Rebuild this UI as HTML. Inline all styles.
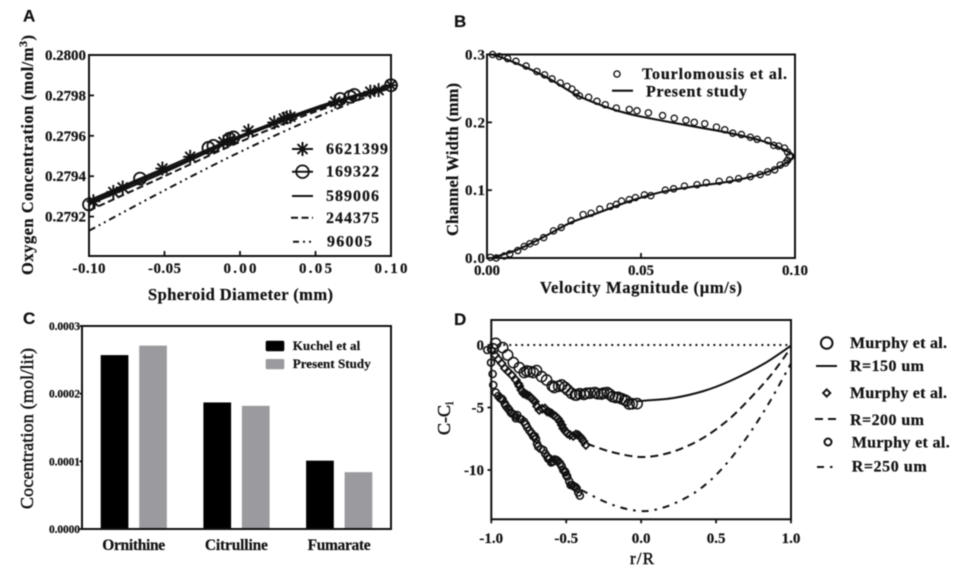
<!DOCTYPE html>
<html lang="en">
<head>
<meta charset="utf-8">
<title>Four-panel validation chart</title>
<style>
html,body{margin:0;padding:0;background:#fff;width:957px;height:568px;overflow:hidden}
svg{display:block;filter:blur(.45px)}
text{font-family:"Liberation Serif",serif;font-weight:bold;fill:#111;stroke:#111;stroke-width:.2}
.letter{font-family:"Liberation Sans",sans-serif;font-size:17px}
.plain{font-weight:normal;stroke-width:.45}
</style>
</head>
<body>
<svg id="fig" xmlns="http://www.w3.org/2000/svg" width="957" height="568" viewBox="0 0 957 568">
  <text class="letter" x="23" y="21.5">A</text>
  <text class="letter" x="454" y="27">B</text>
  <text class="letter" x="23" y="324">C</text>
  <text class="letter" x="454" y="325">D</text>

  <text x="148" y="300" font-size="16.5" textLength="185">Spheroid Diameter (mm)</text>
  <text transform="translate(33,275) rotate(-90)" font-size="16.5" textLength="240">Oxygen Concentration (mol/m<tspan dy="-6" font-size="12">3</tspan><tspan dy="6">)</tspan></text>

  <text x="540" y="293" font-size="16.5" textLength="202">Velocity Magnitude (µm/s)</text>
  <text transform="translate(458,236) rotate(-90)" font-size="16.5" textLength="153">Channel Width (mm)</text>

  <text class="plain" transform="translate(33,509) rotate(-90)" font-size="18" textLength="161">Cocentration (mol/lit)</text>

  <text class="plain" x="630" y="564" font-size="17" textLength="24">r/R</text>
  <text class="plain" transform="translate(450,435) rotate(-90)" font-size="18">C-C<tspan dy="3" font-size="12">i</tspan></text>
</svg>
<script>
/* ---------- Panel A data ---------- */
const aXTicks = [-0.10, -0.05, 0.00, 0.05, 0.10];
const aXTickLabels = ["-0.10", "-0.05", "0.00", "0.05", "0.10"];
const aYTicks = [0.2792, 0.2794, 0.2796, 0.2798, 0.2800];
const aYTickLabels = ["0.2792", "0.2794", "0.2796", "0.2798", "0.2800"];
const aLineX = [-0.10, -0.05, 0.00, 0.05, 0.10];
const aLine6621399 = [0.27928, 0.27944, 0.27960, 0.27974, 0.27985];
const aLine169322 = [0.27926, 0.27942, 0.27959, 0.27973, 0.27985];
const aLine589006 = [0.27927, 0.27943, 0.27959, 0.27974, 0.27985];
const aLine244375 = [0.27923, 0.27940, 0.27957, 0.27972, 0.27984];
const aLine96005 = [0.27913, 0.27933, 0.27952, 0.27969, 0.27984];
const aStarX = [-0.0971, -0.0839, -0.0777, -0.0514, -0.0330, -0.0109, -0.0065, 0.0056, 0.0227, 0.0290, 0.0310, 0.0333, 0.0631, 0.0863, 0.0918, 0.1];
const aStarY = [0.279276, 0.279322, 0.279344, 0.279438, 0.279496, 0.279570, 0.279582, 0.279625, 0.279666, 0.279685, 0.279691, 0.279694, 0.279769, 0.279818, 0.279826, 0.27985];
const aCircleX = [-0.1, -0.0662, -0.0209, -0.0176, -0.0070, -0.0043, 0.0664, 0.073, 0.0757, 0.1];
const aCircleY = [0.27926, 0.279388, 0.279540, 0.279550, 0.279585, 0.279592, 0.279782, 0.279793, 0.279802, 0.27985];

/* ---------- Panel B data ---------- */
const bXTicks = [0, 0.05, 0.10];
const bXTickLabels = ["0.00", "0.05", "0.10"];
const bYTicks = [0, 0.1, 0.2, 0.3];
const bYTickLabels = ["0.0", "0.1", "0.2", "0.3"];
const bPointX = [.0018,.0040,.0067,.0094,.0127,.0162,.0187,.0211,.0238,.0260,.0276,.0289,.0300,.0330,.0357,.0384,.0420,.0462,.0487,.0524,.0570,.0608,.0646,.0673,.0707,.0745,.0772,.0798,.0826,.0855,.0877,.0912,.0931,.0947,.0966,.0976,.0982,.0976,.0969,.0952,.0934,.0911,.0887,.0855,.0817,.0788,.0754,.0712,.0682,.0641,.0606,.0579,.0532,.0511,.0482,.0462,.0437,.0420,.0400,.0366,.0338,.0312,.0273,.0241,.0216,.0184,.0157,.0139,.0121,.0100,.0074,.0056,.0030,.0011];
const bPointY = [.300,.297,.294,.290,.283,.275,.270,.264,.258,.253,.249,.243,.239,.237,.231,.226,.221,.219,.217,.214,.210,.206,.203,.200,.198,.193,.189,.184,.182,.178,.175,.173,.166,.165,.162,.156,.150,.144,.140,.137,.130,.127,.123,.120,.117,.115,.113,.111,.108,.106,.102,.100,.092,.093,.089,.086,.084,.079,.076,.072,.066,.064,.055,.045,.040,.030,.024,.021,.017,.011,.006,.003,.000,.001];
const bLineX = [.0005,.0032,.0127,.0211,.0292,.0384,.0465,.0574,.0682,.0790,.0898,.0963,.0996,.0963,.0898,.0790,.0682,.0574,.0465,.0357,.0271,.0184,.0097,.0022];
const bLineY = [.300,.298,.281,.262,.240,.223,.212,.202,.193,.184,.172,.160,.150,.138,.125,.113,.106,.098,.084,.066,.052,.031,.012,.001];

/* ---------- Panel C data ---------- */
const cCategories = ["Ornithine", "Citrulline", "Fumarate"];
const cKuchel = [0.000257, 0.000187, 0.000101];
const cPresent = [0.000271, 0.000182, 0.000084];
const cYTicks = [0, 0.0001, 0.0002, 0.0003];
const cYTickLabels = ["0.0000", "0.0001", "0.0002", "0.0003"];

/* ---------- Panel D data ---------- */
const dXTicks = [-1, -0.5, 0, 0.5, 1];
const dXTickLabels = ["-1.0", "-0.5", "0.0", "0.5", "1.0"];
const dYTicks = [0, -5, -10];
const dYTickLabels = ["0", "-5", "-10"];
const dBigX = [-.99,-.971,-.924,-.891,-.853,-.813,-.78,-.764,-.742,-.72,-.698,-.664,-.631,-.593,-.58,-.55,-.531,-.509,-.49,-.464,-.44,-.431,-.41,-.382,-.364,-.34,-.309,-.29,-.264,-.25,-.227,-.21,-.191,-.17,-.153,-.13,-.11,-.098,-.08,-.06,-.027];
const dBigY = [-.3,.13,-.21,-.8,-1.41,-1.81,-2.2,-2.08,-2.13,-2.2,-2.05,-2.53,-2.8,-3.28,-3.4,-3.3,-3.2,-3.39,-3.6,-3.87,-4.0,-4.0,-3.9,-3.95,-3.87,-3.85,-3.81,-3.9,-3.92,-3.85,-3.81,-3.95,-4.13,-4.2,-4.19,-4.3,-4.4,-4.48,-4.72,-4.7,-4.69];
const dDiamondX = [-.998,-.976,-.953,-.931,-.909,-.887,-.864,-.836,-.82,-.813,-.8,-.787,-.77,-.76,-.745,-.731,-.72,-.709,-.695,-.68,-.66,-.642,-.627,-.61,-.598,-.585,-.569,-.555,-.542,-.53,-.52,-.505,-.493,-.475,-.453,-.435,-.42,-.41,-.398,-.385,-.369];
const dDiamondY = [-.4,-.8,-1.15,-1.47,-1.87,-2.13,-2.4,-2.8,-3.1,-3.28,-3.6,-3.87,-3.95,-4.0,-4.1,-4.27,-4.4,-4.53,-4.9,-5.2,-5.1,-5.07,-5.33,-5.4,-5.47,-5.6,-5.73,-5.9,-6.13,-6.4,-6.67,-6.9,-7.07,-7.2,-7.28,-7.15,-7.2,-7.3,-7.47,-7.7,-8.0];
const dSmallX = [-1.027,-1.002,-.991,-.987,-.97,-.953,-.94,-.93,-.924,-.91,-.902,-.89,-.88,-.87,-.864,-.85,-.84,-.827,-.836,-.81,-.8,-.782,-.77,-.76,-.745,-.731,-.72,-.71,-.702,-.695,-.687,-.67,-.653,-.64,-.627,-.62,-.61,-.6,-.591,-.585,-.576,-.565,-.555,-.542,-.53,-.52,-.51,-.505,-.5,-.493,-.48,-.471,-.46,-.45,-.44,-.431,-.42,-.409];
const dSmallY = [-.4,-1.41,-2.32,-3.2,-3.8,-4.08,-4.25,-4.3,-4.4,-4.7,-4.88,-5.05,-5.2,-5.4,-5.47,-5.55,-5.7,-5.6,-5.87,-5.9,-5.95,-6.13,-6.35,-6.59,-6.85,-7.07,-7.3,-7.3,-7.52,-7.9,-8.13,-8.3,-8.4,-8.7,-8.93,-9.1,-9.1,-9.4,-9.33,-9.3,-9.15,-9.2,-9.3,-9.47,-9.7,-10,-10.1,-10.2,-10.4,-10.53,-10.9,-11.2,-11.2,-11.3,-11.35,-11.47,-11.8,-12.05];
const dLine150X = [-.03,.027,.216,.415,.593,.815,1];
const dLine150Y = [-4.5,-4.45,-4.24,-3.69,-2.88,-1.53,-.05];
const dLine200X = [-.36,-.2,0,.19,.39,.57,.725,.88,1];
const dLine200Y = [-7.9,-8.55,-8.96,-8.62,-7.6,-6.1,-4.3,-2.2,-.2];
const dLine250X = [-.4,-.2,-.01,.15,.325,.46,.59,.725,.86,1];
const dLine250Y = [-11.6,-12.75,-13.28,-13.0,-12.05,-10.85,-9.2,-7.05,-4.5,-1.47];
const dZeroX = [-1, 1];
const dZeroY = [0, 0];

/* ---------- Helpers ---------- */
const NS = "http://www.w3.org/2000/svg";
const fig = document.getElementById("fig");
function add(tag, attrs, text) {
  const el = document.createElementNS(NS, tag);
  for (const k in attrs) el.setAttribute(k, attrs[k]);
  if (text !== undefined) el.textContent = text;
  fig.appendChild(el);
  return el;
}
function scale(d0, d1, r0, r1) { return v => r0 + (v - d0) / (d1 - d0) * (r1 - r0); }
function smoothPath(xs, ys, sx, sy) {
  const p = xs.map((x, i) => [sx(x), sy(ys[i])]);
  let d = "M" + p[0][0].toFixed(2) + " " + p[0][1].toFixed(2);
  for (let i = 0; i < p.length - 1; i++) {
    const a = p[Math.max(i - 1, 0)], b = p[i], c = p[i + 1], e = p[Math.min(i + 2, p.length - 1)];
    d += "C" + (b[0] + (c[0] - a[0]) / 6).toFixed(2) + " " + (b[1] + (c[1] - a[1]) / 6).toFixed(2) + " " +
         (c[0] - (e[0] - b[0]) / 6).toFixed(2) + " " + (c[1] - (e[1] - b[1]) / 6).toFixed(2) + " " +
         c[0].toFixed(2) + " " + c[1].toFixed(2);
  }
  return d;
}
function frame(l, t, r, b, name) {
  const el = add("rect", {x: l, y: t, width: r - l, height: b - t, fill: "none", stroke: "#111", "stroke-width": 2});
  
  
}
function xTicks(vals, labels, sx, y0, len, baseline, fs, w, name) {
  vals.forEach((v, i) => {
    const t = add("line", {x1: sx(v), x2: sx(v), y1: y0, y2: y0 + len, stroke: "#111", "stroke-width": 1.8});
    
    
    const attrs = {x: sx(v), y: baseline, "font-size": fs, "text-anchor": "middle"};
    if (w) attrs.textLength = w;
    const l = add("text", attrs, labels[i]);
    
    
  });
}
function yTicks(vals, labels, sy, x0, len, right, off, fs, w, name) {
  vals.forEach((v, i) => {
    const t = add("line", {x1: x0, x2: x0 + len, y1: sy(v), y2: sy(v), stroke: "#111", "stroke-width": 1.8});
    
    
    const attrs = {x: right, y: sy(v) + off, "font-size": fs, "text-anchor": "end"};
    if (w) attrs.textLength = w;
    const l = add("text", attrs, labels[i]);
    
    
  });
}
function label(x, y, fs, w, str, name) {
  const el = add("text", {x: x, y: y, "font-size": fs, textLength: w}, str);
  
  
}
function star(cx, cy, r, sw, name) {
  [0, 45, 90, 135].forEach(a => {
    const rad = a * Math.PI / 180;
    const el = add("line", {x1: cx - r * Math.cos(rad), y1: cy - r * Math.sin(rad), x2: cx + r * Math.cos(rad), y2: cy + r * Math.sin(rad), stroke: "#111", "stroke-width": sw});
    
    
  });
}
function ring(cx, cy, r, sw, name) {
  const el = add("circle", {cx: cx, cy: cy, r: r, fill: "none", stroke: "#111", "stroke-width": sw});
  
  
}
function diamond(cx, cy, r, sw, name) {
  const el = add("path", {d: "M" + cx + " " + (cy - r) + "L" + (cx + r) + " " + cy + "L" + cx + " " + (cy + r) + "L" + (cx - r) + " " + cy + "Z", fill: "none", stroke: "#111", "stroke-width": sw});
  
  
}
function curve(xs, ys, sx, sy, sw, dash, name) {
  const attrs = {d: smoothPath(xs, ys, sx, sy), fill: "none", stroke: "#111", "stroke-width": sw};
  if (dash) attrs["stroke-dasharray"] = dash;
  const el = add("path", attrs);
  
  
}
function keyLine(x1, x2, y, sw, dash, name) {
  const attrs = {x1: x1, x2: x2, y1: y, y2: y, stroke: "#111", "stroke-width": sw};
  if (dash) attrs["stroke-dasharray"] = dash;
  const el = add("line", attrs);
  
  
}

/* ---------- Panel A ---------- */
(function () {
  const sx = scale(-0.1, 0.1, 89, 391), sy = scale(0.279, 0.28, 257, 55);
  frame(89, 55, 391, 256, "a-plot-frame");
  xTicks(aXTicks, aXTickLabels, sx, 256, -5, 273, 15, 33, "a-x-axis");
  yTicks(aYTicks, aYTickLabels, sy, 89, 5, 86, 5, 15, 41, "a-y-axis");
  curve(aLineX, aLine96005, sx, sy, 2, "7 4 2 4 2 4", "line-96005");
  curve(aLineX, aLine244375, sx, sy, 2, "7 3.5", "line-244375");
  curve(aLineX, aLine589006, sx, sy, 2, "", "line-589006");
  curve(aLineX, aLine169322, sx, sy, 2, "", "line-169322");
  curve(aLineX, aLine6621399, sx, sy, 2, "", "line-6621399");
  aCircleX.forEach((x, i) => ring(sx(x), sy(aCircleY[i]), 6, 1.8, "marker-169322"));
  aStarX.forEach((x, i) => star(sx(x), sy(aStarY[i]), 7, 1.9, "marker-6621399"));
  keyLine(292, 313, 149, 2, "", "legend-line-6621399");
  star(302.5, 149, 7, 2, "legend-marker-6621399");
  label(326, 154, 16, 62, "6621399", "legend-label-6621399");
  keyLine(292, 313, 171.7, 2, "", "legend-line-169322");
  ring(302.5, 171.7, 6.3, 1.8, "legend-marker-169322");
  label(326, 176.5, 16, 53, "169322", "legend-label-169322");
  keyLine(292, 313, 196, 2, "", "legend-line-589006");
  label(326, 201, 16, 53, "589006", "legend-label-589006");
  keyLine(291, 313, 217.7, 2, "7 3.5", "legend-line-244375");
  label(326, 223, 16, 53, "244375", "legend-label-244375");
  keyLine(293, 313, 241.7, 2, "6 4 2 4 2 4", "legend-line-96005");
  label(327, 246.5, 16, 45, "96005", "legend-label-96005");
})();

/* ---------- Panel B ---------- */
(function () {
  const sx = scale(0, 0.1, 487, 795), sy = scale(0, 0.3, 258, 54.5);
  frame(487, 54.5, 795, 258, "b-plot-frame");
  xTicks(bXTicks, bXTickLabels, sx, 258, -5, 275, 15, 26, "b-x-axis");
  yTicks(bYTicks, bYTickLabels, sy, 487, 5, 485, 5, 15, 20, "b-y-axis");
  curve(bLineX, bLineY, sx, sy, 2.1, "", "b-present-study-line");
  bPointX.forEach((x, i) => ring(sx(x), sy(bPointY[i]), 3.1, 1.3, "b-tourlomousis-point"));
  ring(617, 74, 3.1, 1.4, "b-legend-marker");
  label(642, 79, 16, 145, "Tourlomousis et al.", "b-legend-label-tourlomousis");
  keyLine(612, 633, 90.7, 2.2, "", "b-legend-line");
  label(646, 96.7, 16, 101, "Present study", "b-legend-label-present");
})();

/* ---------- Panel C ---------- */
(function () {
  const sy = scale(0, 0.0003, 529, 326);
  const groupLeft = i => 100.7 + i * 102.7;
  const barW = 27.7;
  cCategories.forEach((c, i) => {
    const k = add("rect", {x: groupLeft(i), y: sy(cKuchel[i]), width: barW, height: 529 - sy(cKuchel[i]), fill: "#000"});
    
    
    const p = add("rect", {x: groupLeft(i) + 38.5, y: sy(cPresent[i]), width: barW, height: 529 - sy(cPresent[i]), fill: "#9b9b9f"});
    
    
    label(groupLeft(i) + 1.5, 550, 15.5, 63, c, "c-category-label");
  });
  frame(82, 326, 391, 529, "c-plot-frame");
  yTicks(cYTicks, cYTickLabels, sy, 79.5, 2.5, 80, 4, 11.5, 31, "c-y-axis");
  const k = add("rect", {x: 265.7, y: 340.7, width: 18.6, height: 10.6, rx: 1.5, fill: "#000"});
  
  
  const g = add("rect", {x: 265.7, y: 359, width: 18.6, height: 10.3, rx: 1.5, fill: "#9b9b9f"});
  
  
  label(292.7, 350, 13, 67.5, "Kuchel et al", "c-legend-label-kuchel");
  label(292.7, 368, 13, 78, "Present Study", "c-legend-label-present");
})();

/* ---------- Panel D ---------- */
(function () {
  const sx = scale(-1, 1, 491.3, 791), sy = scale(0, -10, 345, 470);
  frame(491.3, 320, 791, 519.3, "d-plot-frame");
  xTicks(dXTicks, dXTickLabels, sx, 519.3, 4, 543, 15, 0, "d-x-axis");
  yTicks(dYTicks, dYTickLabels, sy, 487.5, 4, 484, 5, 15, 0, "d-y-axis");
  curve(dZeroX, dZeroY, sx, sy, 2, "2 4", "d-zero-line");
  curve(dLine150X, dLine150Y, sx, sy, 2, "", "d-curve-r150");
  curve(dLine200X, dLine200Y, sx, sy, 2, "8 5", "d-curve-r200");
  curve(dLine250X, dLine250Y, sx, sy, 2, "7 6 2.5 6", "d-curve-r250");
  dSmallX.forEach((x, i) => ring(sx(x), sy(dSmallY[i]), 3.5, 1.6, "d-murphy-small-circle"));
  dDiamondX.forEach((x, i) => diamond(sx(x), sy(dDiamondY[i]), 3.9, 1.7, "d-murphy-diamond"));
  dBigX.forEach((x, i) => ring(sx(x), sy(dBigY[i]), 5.1, 1.5, "d-murphy-big-circle"));
  ring(826.7, 343, 5.8, 2, "d-legend-marker-big-circle");
  label(850, 348, 16, 97, "Murphy et al.", "d-legend-label-murphy-1");
  keyLine(816, 837, 366, 2, "", "d-legend-line-r150");
  label(850, 371, 16, 74, "R=150 um", "d-legend-label-r150");
  diamond(826.7, 393, 3.6, 1.9, "d-legend-marker-diamond");
  label(850, 398, 16, 97, "Murphy et al.", "d-legend-label-murphy-2");
  keyLine(815, 838, 419, 2, "8 5", "d-legend-line-r200");
  label(850, 425, 16, 74, "R=200 um", "d-legend-label-r200");
  ring(828, 442, 3.5, 2, "d-legend-marker-small-circle");
  label(851.7, 447.7, 16, 98, "Murphy et al.", "d-legend-label-murphy-3");
  keyLine(817, 838, 467, 2, "7 6 2.5 6", "d-legend-line-r250");
  label(851.7, 471.7, 16, 75, "R=250 um", "d-legend-label-r250");
})();
</script>
</body>
</html>
